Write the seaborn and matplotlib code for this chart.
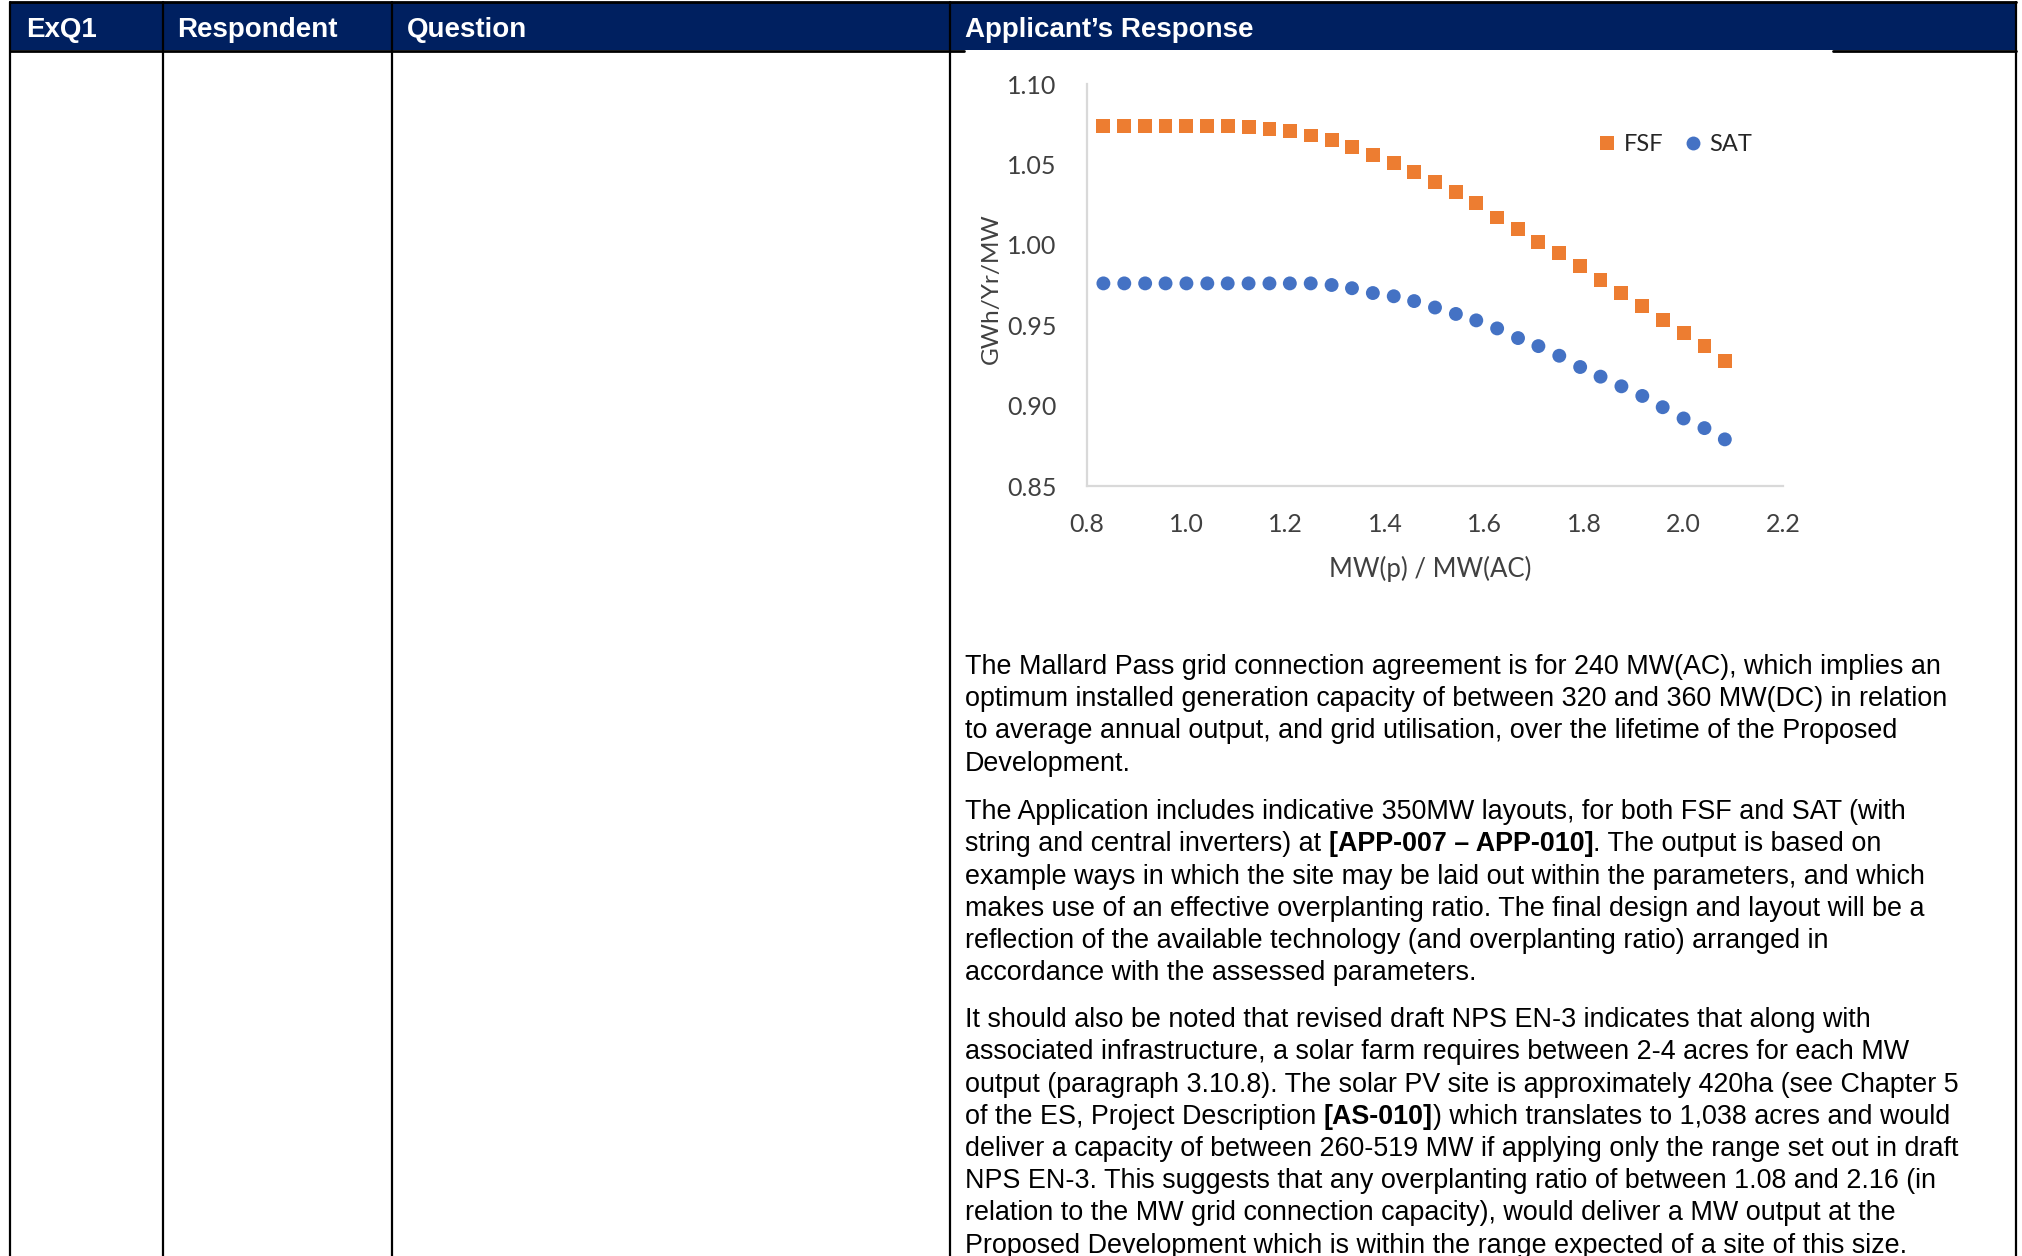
"""
Overplanting ratio vs specific yield (FSF / SAT) inside the ExQ1 response table
"""

import matplotlib
matplotlib.use("Agg")
import matplotlib.pyplot as plt
import pandas as pd
import seaborn as sns

# chart data
ratio = [0.833, 0.875, 0.917, 0.958, 1.000, 1.042, 1.083, 1.125, 1.167, 1.208,
         1.250, 1.292, 1.333, 1.375, 1.417, 1.458, 1.500, 1.542, 1.583, 1.625,
         1.667, 1.708, 1.750, 1.792, 1.833, 1.875, 1.917, 1.958, 2.000, 2.042, 2.083]
fsf = [1.074, 1.074, 1.074, 1.074, 1.074, 1.074, 1.074, 1.073, 1.072, 1.071,
       1.068, 1.065, 1.061, 1.056, 1.051, 1.045, 1.039, 1.033, 1.026, 1.017,
       1.010, 1.002, 0.995, 0.987, 0.978, 0.970, 0.962, 0.953, 0.945, 0.937, 0.928]
sat = [0.976, 0.976, 0.976, 0.976, 0.976, 0.976, 0.976, 0.976, 0.976, 0.976,
       0.976, 0.975, 0.973, 0.970, 0.968, 0.965, 0.961, 0.957, 0.953, 0.948,
       0.942, 0.937, 0.931, 0.924, 0.918, 0.912, 0.906, 0.899, 0.892, 0.886, 0.879]
series_names = ["FSF", "SAT"]
x_ticks = [0.8, 1.0, 1.2, 1.4, 1.6, 1.8, 2.0, 2.2]
y_ticks = [0.85, 0.90, 0.95, 1.00, 1.05, 1.10]

headers = ["ExQ1", "Respondent", "Question", "Applicant\u2019s Response"]

# paragraphs, one list per line, (text, bold) segments
paragraphs = [
    [
        [("The Mallard Pass grid connection agreement is for 240 MW(AC), which implies an", False)],
        [("optimum installed generation capacity of between 320 and 360 MW(DC) in relation", False)],
        [("to average annual output, and grid utilisation, over the lifetime of the Proposed", False)],
        [("Development.", False)],
    ],
    [
        [("The Application includes indicative 350MW layouts, for both FSF and SAT (with", False)],
        [("string and central inverters) at ", False), ("[APP-007 \u2013 APP-010]", True),
         (". The output is based on", False)],
        [("example ways in which the site may be laid out within the parameters, and which", False)],
        [("makes use of an effective overplanting ratio. The final design and layout will be a", False)],
        [("reflection of the available technology (and overplanting ratio) arranged in", False)],
        [("accordance with the assessed parameters.", False)],
    ],
    [
        [("It should also be noted that revised draft NPS EN-3 indicates that along with", False)],
        [("associated infrastructure, a solar farm requires between 2-4 acres for each MW", False)],
        [("output (paragraph 3.10.8). The solar PV site is approximately 420ha (see Chapter 5", False)],
        [("of the ES, Project Description ", False), ("[AS-010]", True),
         (") which translates to 1,038 acres and would", False)],
        [("deliver a capacity of between 260-519 MW if applying only the range set out in draft", False)],
        [("NPS EN-3. This suggests that any overplanting ratio of between 1.08 and 2.16 (in", False)],
        [("relation to the MW grid connection capacity), would deliver a MW output at the", False)],
        [("Proposed Development which is within the range expected of a site of this size.", False)],
    ],
]

W, H = 2022, 1256
NAVY = "#002060"
BODY_FONT = ["Liberation Sans", "DejaVu Sans"]
CHART_FONT = ["Lato", "DejaVu Sans"]
BODY_SIZE = 19.4

sns.set_style("white")
plt.rcParams["font.family"] = BODY_FONT

fig = plt.figure(figsize=(W / 100, H / 100), dpi=100)

# page / table layer in pixel coordinates
page = fig.add_axes([0, 0, 1, 1])
page.set_xlim(0, W)
page.set_ylim(H, 0)
page.axis("off")

col_x = [10, 163, 392, 950, 2016]
page.add_patch(plt.Rectangle((10, 2), 2006, 48, color=NAVY, lw=0))
page.plot([10, 2016], [2, 2], color="black", lw=2)
page.plot([10, 964], [51, 51], color="black", lw=2)
page.plot([1833, 2016], [51, 51], color="black", lw=2)
for cx in col_x:
    page.plot([cx, cx], [2, H], color="black", lw=1.6)

head_x = [26, 177, 407, 965]
for hx, label in zip(head_x, headers):
    page.text(hx, 37, label, color="white", fontsize=20, fontweight="bold",
              va="baseline", family=BODY_FONT)


def put_line(segments, x, y):
    t = None
    for text, bold in segments:
        weight = "bold" if bold else "normal"
        if t is None:
            t = page.text(x, y, text, fontsize=BODY_SIZE, fontweight=weight,
                          va="baseline", color="black", family=BODY_FONT)
        else:
            t = page.annotate(text, xy=(1, 0), xycoords=t, va="bottom",
                              fontsize=BODY_SIZE, fontweight=weight, color="black",
                              family=BODY_FONT)


para_start = [674, 819, 1027]
line_gap = 32.25
for start, para in zip(para_start, paragraphs):
    for i, line in enumerate(para):
        put_line(line, 965, start + i * line_gap)

# the chart
ax = fig.add_axes([1087 / W, 1 - 486 / H, 696 / W, 402 / H])
df = pd.DataFrame({
    "ratio": ratio + ratio,
    "value": fsf + sat,
    "series": [series_names[0]] * len(fsf) + [series_names[1]] * len(sat),
})
sns.scatterplot(data=df, x="ratio", y="value", hue="series", style="series",
                markers={"FSF": "s", "SAT": "o"},
                palette={"FSF": "#ED7D31", "SAT": "#4472C4"},
                s=100, linewidth=0, ax=ax)

ax.set_xlim(0.8, 2.2)
ax.set_ylim(0.85, 1.10)
ax.set_xticks(x_ticks)
ax.set_xticklabels([f"{v:.1f}" for v in x_ticks])
ax.set_yticks(y_ticks)
ax.set_yticklabels([f"{v:.2f}" for v in y_ticks])
for lab in ax.get_xticklabels() + ax.get_yticklabels():
    lab.set_family(CHART_FONT)
    lab.set_fontsize(18)
    lab.set_color("#404040")
ax.tick_params(axis="x", length=0, pad=19.5)
ax.tick_params(axis="y", length=0, pad=22)

sns.despine(ax=ax)
for side in ["left", "bottom"]:
    ax.spines[side].set_color("#d9d9d9")
    ax.spines[side].set_linewidth(1.6)

ax.set_xlabel("MW(p) / MW(AC)", fontsize=18.5, color="#404040", family=CHART_FONT)
ax.set_ylabel("GWh/Yr/MW", fontsize=17.6, color="#404040", family=CHART_FONT)
ax.xaxis.set_label_coords(0.493, -0.174)
ax.yaxis.set_label_coords(-0.123, 0.49)

sns.move_legend(ax, "center", bbox_to_anchor=(0.845, 0.850), ncol=2,
                frameon=False, title=None, fontsize=17,
                handlelength=0.8, handletextpad=0.3, columnspacing=0.86)
for txt in ax.get_legend().get_texts():
    txt.set_family(CHART_FONT)
    txt.set_color("#262626")

fig.savefig("out.png", dpi=100)
